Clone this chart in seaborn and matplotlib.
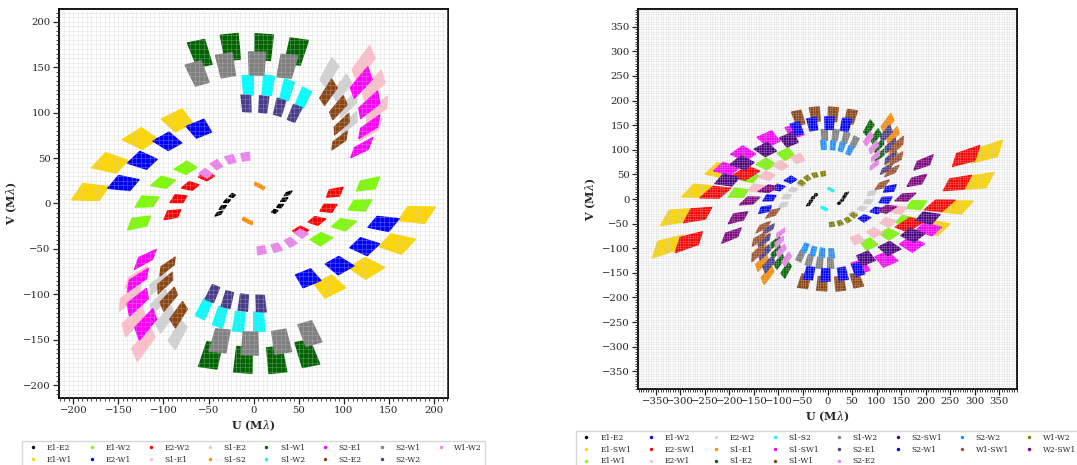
import numpy as np
import pandas as pd
import matplotlib
matplotlib.use("Agg")
import matplotlib.pyplot as plt
from matplotlib.ticker import MultipleLocator
import seaborn as sns

# centres of the observed uv patches (U, V in Mlambda), one half of each track;
# the other half is the point-symmetric copy (-U, -V)
E1_E2 = [(-38.3, -11.0), (-34.0, -4.2), (-29.3, 2.8), (-23.5, 8.7)]
E1_W1 = [(-181, 12), (-159, 44), (-125, 71), (-84, 91)]
E1_W2 = [(-127, -21), (-118, 2), (-100, 23), (-75, 39)]
E2_W1 = [(-144, 22), (-123, 47), (-95, 68), (-60, 82)]
E2_W2 = [(-90, -12), (-83, 5), (-70, 19), (-52, 30)]
S1_E1 = [(122, 154), (133, 129), (137, 103), (130, 81)]
S1_E2 = [(84, 144), (98, 127), (105, 108), (106, 88)]
S1_S2 = [(2.5, 21.2), (5.5, 20.0), (8.3, 18.6), (10.8, 16.9)]
S1_W1 = [(-59, 165), (-25, 172), (11, 172), (47, 167)]
S1_W2 = [(-6, 130), (16, 130), (37, 125), (55, 116)]
S2_E1 = [(119.5, 132.5), (128.5, 108), (128.5, 84), (120, 61)]
S2_E2 = [(83, 122), (94, 105), (98, 87), (95.5, 69)]
S2_W1 = [(-62, 143), (-30.5, 152), (3.7, 154), (37, 151)]
S2_W2 = [(-8, 110), (11, 109), (28.7, 105.7), (45.4, 99)]
W1_W2 = [(-53, 33), (-41, 42.5), (-25.4, 48.5), (-8.7, 51.4)]
E1_SW1 = [(324.5, 95), (306, 35.5), (263, -16), (219, -57.5)]
E2_SW1 = [(282, 86.4), (264, 31.5), (227.6, -13), (166.5, -51.8)]
S1_SW1 = [(-66, 138), (-119, 122), (-171, 92), (-205.5, 61)]
S2_SW1 = [(-77.5, 120.3), (-125.7, 100), (-173, 73), (-204, 38)]
W1_SW1 = [(-111, -28.5), (-130.8, -56.5), (-140, -81.4), (-142, -110)]
W2_SW1 = [(-120.6, 20.4), (-158, -3.5), (-181.8, -37.2), (-195.4, -73.6)]

TRACKS = {
    "E1-E2": E1_E2, "E1-W1": E1_W1, "E1-W2": E1_W2, "E2-W1": E2_W1,
    "E2-W2": E2_W2, "S1-E1": S1_E1, "S1-E2": S1_E2, "S1-S2": S1_S2,
    "S1-W1": S1_W1, "S1-W2": S1_W2, "S2-E1": S2_E1, "S2-E2": S2_E2,
    "S2-W1": S2_W1, "S2-W2": S2_W2, "W1-W2": W1_W2,
    "E1-SW1": E1_SW1, "E2-SW1": E2_SW1, "S1-SW1": S1_SW1,
    "S2-SW1": S2_SW1, "W1-SW1": W1_SW1, "W2-SW1": W2_SW1,
}

LEFT_BASELINES = ["E1-E2", "E1-W1", "E1-W2", "E2-W1", "E2-W2", "S1-E1",
                  "S1-E2", "S1-S2", "S1-W1", "S1-W2", "S2-E1", "S2-E2",
                  "S2-W1", "S2-W2", "W1-W2"]
RIGHT_BASELINES = ["E1-E2", "E1-SW1", "E1-W1", "E1-W2", "E2-SW1", "E2-W1",
                   "E2-W2", "S1-E1", "S1-E2", "S1-S2", "S1-SW1", "S1-W1",
                   "S1-W2", "S2-E1", "S2-E2", "S2-SW1", "S2-W1", "S2-W2",
                   "W1-SW1", "W1-W2", "W2-SW1"]

COLORS = ["black", "gold", "lawngreen", "blue", "red", "pink", "lightgray",
          "darkorange", "darkgreen", "cyan", "magenta", "saddlebrown", "gray",
          "darkslateblue", "violet", "indigo", "blue", "dodgerblue", "sienna",
          "olive", "purple"]

BAND = (0.918, 1.082)   # radial spread of the spectral channels
TRACK_FRAC = 0.52       # time span of one patch relative to patch spacing

sns.set_style("white")
plt.rcParams["font.family"] = ["DejaVu Serif"]
plt.rcParams["mathtext.fontset"] = "dejavuserif"


def patch_polygons(track):
    c = np.asarray(track, dtype=float)
    half = 0.5 * TRACK_FRAC * np.gradient(c, axis=0)
    polys = []
    for ci, hi in zip(c, half):
        a, b = ci - hi, ci + hi
        poly = np.array([a * BAND[0], b * BAND[0], b * BAND[1], a * BAND[1]])
        polys.append(poly)
        polys.append(-poly)
    return polys


fig = plt.figure(figsize=(10.77, 4.65), dpi=100)

panels = [
    (LEFT_BASELINES, [0.0548, 0.1441, 0.3612, 0.8366], 216, 214, -0.1105),
    (RIGHT_BASELINES, [0.5924, 0.1634, 0.3519, 0.8172], 386, 386, -0.1097),
]

for names, rect, xl, yl, leg_y in panels:
    ax = fig.add_axes(rect)
    rows = []
    for name in names:
        for u, v in TRACKS[name]:
            rows.append((name, u, v))
            rows.append((name, -u, -v))
    df = pd.DataFrame(rows, columns=["baseline", "U", "V"])
    palette = dict(zip(names, COLORS[:len(names)]))

    sns.scatterplot(data=df, x="U", y="V", hue="baseline", hue_order=names,
                    palette=palette, s=6, linewidth=0, ax=ax, zorder=1)

    # each patch = spectral channels x time span of one observation
    for name in names:
        for poly in patch_polygons(TRACKS[name]):
            ax.fill(poly[:, 0], poly[:, 1], color=palette[name], lw=1.0,
                    ec=palette[name], joinstyle="round", zorder=2)

    ax.set_xlim(-xl, xl)
    ax.set_ylim(-yl, yl)
    for axis in (ax.xaxis, ax.yaxis):
        axis.set_major_locator(MultipleLocator(50))
        axis.set_minor_locator(MultipleLocator(5))
    ax.set_axisbelow(False)
    ax.grid(True, which="both", color="#c4c4c4", alpha=0.4, linewidth=0.45)
    ax.tick_params(which="major", direction="out", length=4, width=0.9,
                   labelsize=7.3, left=True, bottom=True, pad=2)
    ax.tick_params(which="minor", direction="out", length=2, width=0.6,
                   left=True, bottom=True)
    for spine in ax.spines.values():
        spine.set_visible(True)
        spine.set_color("black")
        spine.set_linewidth(1.3)

    ax.set_xlabel(r"U (M$\lambda$)", fontsize=8, fontweight="bold", labelpad=2)
    ax.set_ylabel(r"V (M$\lambda$)", fontsize=8, fontweight="bold", labelpad=3)

    sns.move_legend(ax, "upper center", bbox_to_anchor=(0.5, leg_y), ncol=8,
                    title=None, frameon=True, fontsize=5.5, borderaxespad=0,
                    handletextpad=0.8, columnspacing=1.6)

fig.savefig("out.png", dpi=100)
